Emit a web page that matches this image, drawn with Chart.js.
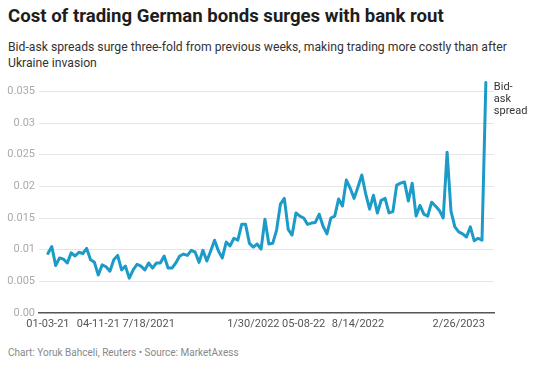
<!DOCTYPE html>
<html>
<head>
<meta charset="utf-8">
<script src="https://cdn.jsdelivr.net/npm/chart.js@4.4.1/dist/chart.umd.min.js"></script>
<style>
  html,body{margin:0;padding:0;background:#fff;width:544px;height:369px;overflow:hidden;font-family:Roboto,"Noto Sans",sans-serif;}
  #title{position:absolute;left:8px;top:5px;font-size:18.6px;font-weight:700;color:#1d1d1d;white-space:nowrap;}
  #sub{position:absolute;left:8px;top:39px;width:536px;font-size:12.2px;line-height:16px;color:#333;}
  #foot{position:absolute;left:8px;top:347px;font-size:10px;color:#888;white-space:nowrap;}
  #wrap{position:absolute;left:0;top:70px;width:544px;height:270px;}
</style>
</head>
<body>
<div id="title">Cost of trading German bonds surges with bank rout</div>
<div id="sub">Bid-ask spreads surge three-fold from previous weeks, making trading more costly than after Ukraine invasion</div>
<div id="foot">Chart: Yoruk Bahceli, Reuters • Source: MarketAxess</div>
<div id="wrap"><canvas id="c"></canvas></div>
<script>
const spread = [
  0.0094, 0.0105, 0.0075, 0.0087, 0.0085, 0.0079, 0.0095, 0.009, 0.0096, 0.0094,
  0.0102, 0.0084, 0.008, 0.006, 0.0076, 0.0073, 0.0066, 0.0084, 0.0091, 0.0068,
  0.0074, 0.0055, 0.0068, 0.0077, 0.0074, 0.0068, 0.0079, 0.0071, 0.0079, 0.0079,
  0.009, 0.0071, 0.0071, 0.0079, 0.009, 0.0093, 0.0091, 0.0099, 0.0096, 0.008,
  0.0099, 0.0082, 0.0098, 0.0115, 0.0098, 0.0087, 0.0112, 0.0106, 0.0118, 0.0115,
  0.014, 0.014, 0.011, 0.0104, 0.0109, 0.0101, 0.0148, 0.0109, 0.011, 0.0131,
  0.0172, 0.0181, 0.0132, 0.0123, 0.0158, 0.0153, 0.015, 0.014, 0.0142, 0.0143,
  0.0156, 0.0137, 0.0125, 0.015, 0.0153, 0.018, 0.0169, 0.021, 0.0197, 0.0181,
  0.0199, 0.0218, 0.0188, 0.0164, 0.0186, 0.0158, 0.0178, 0.0181, 0.0158, 0.016,
  0.0202, 0.0205, 0.0207, 0.0177, 0.0205, 0.0153, 0.017, 0.0156, 0.0153, 0.0175,
  0.0169, 0.0162, 0.015, 0.0254, 0.0161, 0.0136, 0.0128, 0.0125, 0.012, 0.0136,
  0.0114, 0.0118, 0.0115, 0.0364
];
const tickIndex = [0, 13, 26, 53, 66, 80, 106];
const tickLabels = ["01-03-21", "04-11-21", "7/18/2021", "1/30/2022", "05-08-22", "8/14/2022", "2/26/2023"];
const yTicks = [0, 0.005, 0.01, 0.015, 0.02, 0.025, 0.03, 0.035];
const yTickLabels = ["0.00", "0.005", "0.01", "0.015", "0.02", "0.025", "0.03", "0.035"];
const seriesName = ["Bid-", "ask", "spread"];

const points = spread.map((v, i) => ({x: i, y: v}));

const endLabel = {
  id: 'endLabel',
  afterDatasetsDraw(chart) {
    const meta = chart.getDatasetMeta(0);
    const last = meta.data[meta.data.length - 1];
    const ctx = chart.ctx;
    ctx.save();
    ctx.font = '11px Roboto, "Noto Sans", sans-serif';
    ctx.fillStyle = '#333';
    ctx.textBaseline = 'alphabetic';
    ctx.textAlign = 'left';
    seriesName.forEach((t, k) => ctx.fillText(t, last.x + 8, last.y + 8 + k * 12));
    ctx.restore();
  }
};

new Chart(document.getElementById('c'), {
  type: 'line',
  data: { datasets: [{ data: points, borderColor: '#1c9bc8', borderWidth: 3, pointRadius: 0, tension: 0, fill: false, borderJoinStyle: 'round', borderCapStyle: 'round' }] },
  options: {
    responsive: true, maintainAspectRatio: false, animation: false,
    layout: { padding: { top: 10, right: 50, left: 0, bottom: 0 } },
    plugins: { legend: { display: false }, tooltip: { enabled: false } },
    scales: {
      x: {
        type: 'linear', min: -2.3, max: spread.length - 1 + 2.1,
        afterBuildTicks(s) { s.ticks = tickIndex.map(v => ({value: v})); },
        afterFit(s) { s.height = 27; },
        grid: { display: false, drawTicks: false },
        border: { display: true, color: '#555', width: 1.5 },
        ticks: { autoSkip: false, maxRotation: 0, padding: 5, color: '#555',
          font: { size: 11, family: 'Roboto' },
          callback(v) { const k = tickIndex.indexOf(v); return k >= 0 ? tickLabels[k] : ''; } }
      },
      y: {
        min: 0, max: 0.0367,
        afterBuildTicks(s) { s.ticks = yTicks.map(v => ({value: v})); },
        afterFit(s) { s.width = 39; },
        grid: { drawTicks: false, color: (c) => c.tick && c.tick.value === 0 ? 'rgba(0,0,0,0)' : '#e6e6e6', lineWidth: 1 },
        border: { display: false },
        ticks: { padding: 4, color: '#aaa', font: { size: 11, family: 'Roboto' },
          callback(v) { const k = yTicks.indexOf(v); return k >= 0 ? yTickLabels[k] : ''; } }
      }
    }
  },
  plugins: [endLabel]
});
</script>
</body>
</html>
